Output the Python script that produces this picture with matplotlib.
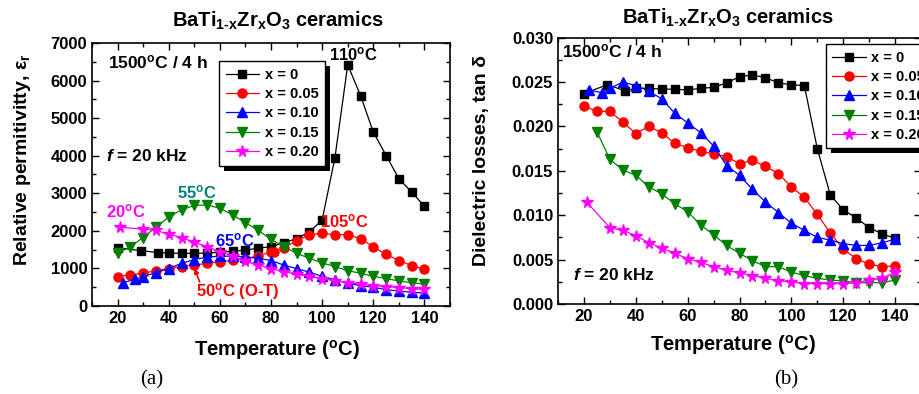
import matplotlib
matplotlib.use('Agg')
import matplotlib.pyplot as plt
from matplotlib.ticker import MultipleLocator, FormatStrFormatter
import matplotlib.patheffects as pe

plt.rcParams['font.family'] = ['Liberation Sans', 'DejaVu Sans']
plt.rcParams['font.weight'] = 'bold'
plt.rcParams['mathtext.fontset'] = 'custom'
plt.rcParams['mathtext.rm'] = 'Liberation Sans:bold'
plt.rcParams['mathtext.it'] = 'Liberation Sans:bold:italic'
plt.rcParams['mathtext.bf'] = 'Liberation Sans:bold'
plt.rcParams['mathtext.default'] = 'rm'

# ---- (a) relative permittivity ----
t_x0 = [20, 29, 36, 40, 45, 50, 55, 60, 65, 70, 75, 80, 85, 90, 95, 100,
        105, 110, 115, 120, 125, 130, 135, 140]
eps_x0 = [1550, 1475, 1420, 1410, 1400, 1400, 1410, 1430, 1455, 1490, 1535, 1580,
          1680, 1795, 1970, 2290, 3950, 6420, 5600, 4630, 4005, 3390, 3030, 2655]

t_x05 = [20, 25, 30, 35, 40, 45, 50, 55, 60, 65, 70, 75, 80, 81, 85, 90, 95,
         100, 105, 110, 115, 120, 125, 130, 135, 140]
eps_x05 = [780, 835, 870, 940, 995, 1050, 1090, 1135, 1180, 1215, 1260, 1330,
           1440, 1445, 1555, 1730, 1900, 1930, 1900, 1900, 1795, 1570, 1375,
           1210, 1075, 975]

t_x10 = [22, 27, 30, 35, 40, 45, 50, 55, 60, 65, 70, 75, 80, 85, 90, 95, 100,
         105, 110, 115, 120, 125, 130, 135, 140]
eps_x10 = [620, 710, 780, 890, 995, 1135, 1235, 1300, 1325, 1325, 1305, 1270,
           1210, 1090, 995, 900, 790, 695, 605, 540, 500, 435, 400, 365, 340]

t_x15 = [20, 25, 30, 35, 40, 45, 50, 55, 60, 65, 70, 75, 80, 85, 90, 95, 100,
         105, 110, 115, 120, 125, 130, 135, 140]
eps_x15 = [1400, 1580, 1820, 2095, 2365, 2560, 2675, 2690, 2600, 2425, 2220, 2010,
           1775, 1580, 1400, 1270, 1145, 1050, 940, 870, 790, 730, 665, 620, 580]

t_x20 = [21, 30, 35, 40, 45, 50, 55, 60, 65, 70, 75, 80, 85, 90, 95, 100, 105,
         110, 115, 120, 125, 130, 135, 140]
eps_x20 = [2095, 2045, 2010, 1910, 1820, 1695, 1580, 1450, 1330, 1190, 1090, 995,
           915, 845, 790, 730, 675, 620, 585, 540, 515, 490, 460, 445]

# ---- (b) dielectric losses ----
tb_x0 = [20, 29, 36, 40, 45, 50, 55, 60, 65, 70, 75, 80, 85, 90, 95, 100,
         105, 110, 115, 120, 125, 130, 135, 140]
tan_x0 = [0.0237, 0.0247, 0.0240, 0.0243, 0.0243, 0.0242, 0.0242, 0.0241, 0.0243,
          0.0244, 0.0249, 0.0256, 0.0258, 0.0255, 0.0249, 0.0247, 0.0246, 0.0175,
          0.0123, 0.0106, 0.0097, 0.0086, 0.0079, 0.0074]

tb_x05 = [20, 25, 30, 35, 40, 45, 50, 55, 60, 65, 70, 75, 80, 85, 90, 95, 100,
          105, 110, 115, 120, 125, 130, 135, 140]
tan_x05 = [0.0223, 0.0217, 0.0217, 0.0205, 0.0192, 0.0200, 0.0193, 0.0181, 0.0176,
           0.0172, 0.0169, 0.0166, 0.0158, 0.0162, 0.0155, 0.0147, 0.0132, 0.0120,
           0.0101, 0.0080, 0.0062, 0.0051, 0.0045, 0.0042, 0.0043]

tb_x10 = [22, 27, 30, 35, 40, 45, 50, 55, 60, 65, 70, 75, 80, 85, 90, 95, 100,
          105, 110, 115, 120, 125, 130, 135, 140]
tan_x10 = [0.0241, 0.0238, 0.0243, 0.0250, 0.0246, 0.0240, 0.0231, 0.0215, 0.0204,
           0.0193, 0.0178, 0.0156, 0.0145, 0.0129, 0.0115, 0.0103, 0.0091, 0.0083,
           0.0075, 0.0072, 0.0068, 0.0066, 0.0066, 0.0069, 0.0073]

tb_x15 = [25, 30, 35, 40, 45, 50, 55, 60, 65, 70, 75, 80, 85, 90, 95, 100, 105,
          110, 115, 120, 125, 130, 135, 140]
tan_x15 = [0.0194, 0.0163, 0.0151, 0.0145, 0.0132, 0.0124, 0.0113, 0.0104, 0.0089,
           0.0078, 0.0066, 0.0057, 0.0049, 0.0042, 0.0042, 0.0036, 0.0032, 0.0029,
           0.0027, 0.0026, 0.0024, 0.0024, 0.0024, 0.0027]

tb_x20 = [21, 30, 35, 40, 45, 50, 55, 60, 65, 70, 75, 80, 85, 90, 95, 100, 105,
          110, 115, 120, 125, 130, 135, 140]
tan_x20 = [0.0115, 0.0086, 0.0083, 0.0077, 0.0069, 0.0063, 0.0057, 0.0051, 0.0047,
           0.0042, 0.0038, 0.0035, 0.0032, 0.0029, 0.0026, 0.0025, 0.0023, 0.0023,
           0.0023, 0.0023, 0.0024, 0.0027, 0.0029, 0.0036]

labels = ['x = 0', 'x = 0.05', 'x = 0.10', 'x = 0.15', 'x = 0.20']
colors = ['black', 'red', 'blue', 'green', 'magenta']
markers = ['s', 'o', '^', 'v', '*']
msizes = [5.5, 6.5, 6.5, 6.5, 8.5]

title = r'BaTi$_{\text{1-x}}$Zr$_\text{x}$O$_3$ ceramics'

fig = plt.figure(figsize=(9.19, 3.94), dpi=100)
ax1 = fig.add_axes([0.1001, 0.2234, 0.3896, 0.6675])
ax2 = fig.add_axes([0.6072, 0.2284, 0.395, 0.676])

series_a = [(t_x0, eps_x0), (t_x05, eps_x05), (t_x10, eps_x10), (t_x15, eps_x15), (t_x20, eps_x20)]
series_b = [(tb_x0, tan_x0), (tb_x05, tan_x05), (tb_x10, tan_x10), (tb_x15, tan_x15), (tb_x20, tan_x20)]

for ax, series in [(ax1, series_a), (ax2, series_b)]:
    for (xs, ys), lab, c, m, ms in zip(series, labels, colors, markers, msizes):
        ax.plot(xs, ys, color=c, marker=m, markersize=ms, linewidth=0.9,
                label=lab, clip_on=False)
    ax.set_xlim(10, 150)
    ax.xaxis.set_major_locator(MultipleLocator(20))
    ax.xaxis.set_minor_locator(MultipleLocator(10))
    ax.tick_params(which='both', direction='in', top=True, right=True,
                   labelsize=12, width=1)
    ax.tick_params(which='major', length=5)
    ax.tick_params(which='minor', length=3)
    for s in ax.spines.values():
        s.set_linewidth(1.2)
    ax.set_xlabel(r'Temperature ($^\mathrm{o}$C)', fontsize=14.5, fontweight='bold')

ax1.set_ylim(0, 7000)
ax1.yaxis.set_major_locator(MultipleLocator(1000))
ax1.yaxis.set_minor_locator(MultipleLocator(500))
ax1.set_ylabel('Relative permitivitty, ε$_r$', fontsize=14, fontweight='bold')
ax1.yaxis.set_label_coords(-0.165, 0.555)
ax1.xaxis.set_label_coords(0.517, -0.122)
ax1.text(0.518, 1.083, title, transform=ax1.transAxes, ha='center', va='center',
         fontsize=14.5, fontweight='bold')

ax2.set_ylim(0, 0.030)
ax2.yaxis.set_major_locator(MultipleLocator(0.005))
ax2.yaxis.set_minor_locator(MultipleLocator(0.0025))
ax2.yaxis.set_major_formatter(FormatStrFormatter('%.3f'))
ax2.set_ylabel('Dielectric losses, tan δ', fontsize=14, fontweight='bold')
ax2.yaxis.set_label_coords(-0.187, 0.537)
ax2.xaxis.set_label_coords(0.482, -0.109)
ax2.text(0.467, 1.073, title, transform=ax2.transAxes, ha='center', va='center',
         fontsize=14.5, fontweight='bold')

for ax in (ax1, ax2):
    for lbl in ax.get_xticklabels() + ax.get_yticklabels():
        lbl.set_fontweight('bold')

# legends
leg_kw = dict(fontsize=10.5, frameon=True, fancybox=False, handlelength=2.3,
              handletextpad=0.4, labelspacing=0.36, borderpad=0.45,
              borderaxespad=0, edgecolor='black', framealpha=1)
lg1 = ax1.legend(loc='upper left', bbox_to_anchor=(0.355, 0.93), **leg_kw)
lg2 = ax2.legend(loc='upper left', bbox_to_anchor=(0.737, 0.975), **leg_kw)
for lg in (lg1, lg2):
    fr = lg.get_frame()
    fr.set_linewidth(1.0)
    fr.set_path_effects([pe.SimplePatchShadow(offset=(3.6, -3.6), shadow_rgbFace='black',
                                              alpha=1.0), pe.Normal()])
    for tx in lg.get_texts():
        tx.set_fontweight('bold')

# annotations (a)
ax1.text(0.045, 0.925, r'1500$^\mathrm{o}$C / 4 h', transform=ax1.transAxes,
         ha='left', va='center', fontsize=12.5, fontweight='bold')
ax1.text(0.039, 0.57, r'$\mathit{f}$ = 20 kHz', transform=ax1.transAxes,
         ha='left', va='center', fontsize=12.5, fontweight='bold')
ax1.text(112.3, 6690, r'110$^\mathrm{o}$C', ha='center', va='center', fontsize=12,
         color='black', fontweight='bold')
ax1.text(108.6, 2245, r'105$^\mathrm{o}$C', ha='center', va='center', fontsize=12,
         color='red', fontweight='bold')
ax1.text(51, 3025, r'55$^\mathrm{o}$C', ha='center', va='center', fontsize=12,
         color='teal', fontweight='bold')
ax1.text(23.3, 2510, r'20$^\mathrm{o}$C', ha='center', va='center', fontsize=12,
         color='magenta', fontweight='bold')
ax1.text(66, 1757, r'65$^\mathrm{o}$C', ha='center', va='center', fontsize=12,
         color='blue', fontweight='bold')
ax1.text(50.6, 380, r'50$^\mathrm{o}$C (O-T)', ha='left', va='center', fontsize=12,
         color='red', fontweight='bold')
ax1.annotate('', xy=(50.1, 1000), xytext=(52.1, 640),
             arrowprops=dict(arrowstyle='-|>', color='red', lw=1.2,
                             mutation_scale=7, shrinkA=0, shrinkB=0))

# annotations (b)
ax2.text(0.01, 0.947, r'1500$^\mathrm{o}$C / 4 h', transform=ax2.transAxes,
         ha='left', va='center', fontsize=12.5, fontweight='bold')
ax2.text(0.041, 0.109, r'$\mathit{f}$ = 20 kHz', transform=ax2.transAxes,
         ha='left', va='center', fontsize=12.5, fontweight='bold')

fig.text(152 / 919, 1 - 380 / 394, '(a)', ha='center', va='center',
         fontsize=15, family='Liberation Serif', fontweight='normal')
fig.text(786 / 919, 1 - 380 / 394, '(b)', ha='center', va='center',
         fontsize=15, family='Liberation Serif', fontweight='normal')

fig.savefig('out.png', dpi=100)
